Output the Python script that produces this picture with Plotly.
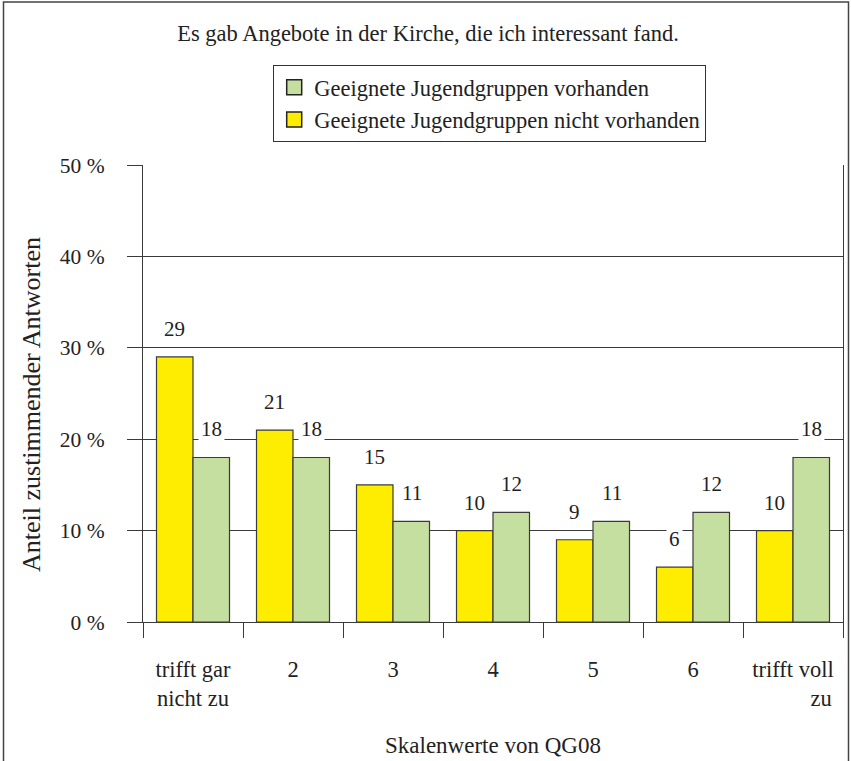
import plotly.graph_objects as go

categories = ["trifft gar<br>nicht zu", "2", "3", "4", "5", "6",
              "trifft voll<br>" + "\u00a0" * 10 + "zu"]
nicht_vorhanden = [29, 21, 15, 10, 9, 6, 10]
vorhanden = [18, 18, 11, 12, 11, 12, 18]
y_ticks = [0, 10, 20, 30, 40, 50]
y_tick_text = [f"{v} %" for v in y_ticks]

name_v = "Geeignete Jugendgruppen vorhanden"
name_n = "Geeignete Jugendgruppen nicht vorhanden"
title = "Es gab Angebote in der Kirche, die ich interessant fand."
x_title = "Skalenwerte von QG08"
y_title = "Anteil zustimmender Antworten"

YELLOW = "#FFED00"
GREEN = "#C5DFA0"
DARK = "#3a3a3a"
TXT = "#222"
FONT = "Liberation Serif"

# plot area in pixels (for positioning of layout elements)
L, R, T, B = 143, 843, 165, 622
PW, PH = R - L, B - T


def px_x(x):
    return (x - L) / PW


def px_y(y):
    return (B - y) / PH


fig = go.Figure()
fig.add_trace(go.Bar(x=categories, y=nicht_vorhanden, name=name_n,
                     marker=dict(color=YELLOW, line=dict(color=DARK, width=1.2)),
                     showlegend=False))
fig.add_trace(go.Bar(x=categories, y=vorhanden, name=name_v,
                     marker=dict(color=GREEN, line=dict(color=DARK, width=1.2)),
                     showlegend=False))
# legend entries (larger square symbols)
fig.add_trace(go.Scatter(x=[None], y=[None], mode="markers", name=name_v,
                         marker=dict(symbol="square", size=15, color=GREEN,
                                     line=dict(color="#222", width=1.5)),
                         legendrank=1))
fig.add_trace(go.Scatter(x=[None], y=[None], mode="markers", name=name_n,
                         marker=dict(symbol="square", size=15, color=YELLOW,
                                     line=dict(color="#222", width=1.5)),
                         legendrank=2))

# value labels above bars, white background breaking the grid lines
for i, (vn, vv) in enumerate(zip(nicht_vorhanden, vorhanden)):
    for val, shift in ((vn, -18.5), (vv, 18.5)):
        fig.add_annotation(x=i, y=val, xref="x", yref="y", text=str(val),
                           showarrow=False, xshift=shift, yshift=28,
                           yanchor="middle", bgcolor="white", borderpad=2,
                           font=dict(family=FONT, size=21, color=TXT))

# axis titles
fig.add_annotation(x=px_x(493), y=px_y(745), xref="paper", yref="paper",
                   text=x_title, showarrow=False, yanchor="middle",
                   font=dict(family=FONT, size=23, color=TXT))
fig.add_annotation(x=px_x(31), y=px_y(405), xref="paper", yref="paper",
                   text=y_title, showarrow=False, textangle=-90, xanchor="center",
                   yanchor="middle", font=dict(family=FONT, size=26, color=TXT))

# outer frame
fig.add_shape(type="rect", xref="paper", yref="paper",
              x0=px_x(3.5), x1=px_x(848.5), y0=px_y(800), y1=px_y(2),
              line=dict(color="#444", width=1.5), fillcolor="rgba(0,0,0,0)", layer="below")

fig.update_layout(
    width=851, height=761,
    margin=dict(l=L, r=851 - R, t=T, b=761 - B, autoexpand=False),
    paper_bgcolor="white", plot_bgcolor="white",
    barmode="group", bargap=0.27, bargroupgap=0,
    font=dict(family=FONT, size=21, color=TXT),
    title=dict(text=title, xref="container", x=428 / 851, xanchor="center",
               yref="container", y=1 - 33 / 761, yanchor="middle",
               font=dict(family=FONT, size=22.5, color=TXT)),
    legend=dict(x=px_x(273), y=px_y(65), xanchor="left", yanchor="top",
                bordercolor="#333", borderwidth=1.2, bgcolor="white",
                font=dict(family=FONT, size=22.5, color=TXT),
                tracegroupgap=0, itemwidth=30),
    xaxis=dict(type="category", range=[-0.5, 6.5], showline=True, linecolor=DARK,
               linewidth=1.3, ticks="outside", tickson="boundaries", ticklen=15,
               tickcolor=DARK, tickwidth=1.3, showgrid=False, ticklabelstandoff=27,
               automargin=False,
               tickfont=dict(family=FONT, size=22.5, color=TXT)),
    yaxis=dict(range=[0, 50], tickvals=y_ticks, ticktext=y_tick_text,
               showgrid=True, gridcolor=DARK, gridwidth=1.3, zeroline=False,
               showline=True, mirror=True, linecolor=DARK, linewidth=1.3,
               ticks="outside", ticklen=15, tickcolor=DARK, tickwidth=1.3,
               ticklabelstandoff=18, automargin=False,
               tickfont=dict(family=FONT, size=21.5, color=TXT)),
)

fig.write_html("out.html", config={"displayModeBar": False},
               post_script="document.body.style.margin='0';")
